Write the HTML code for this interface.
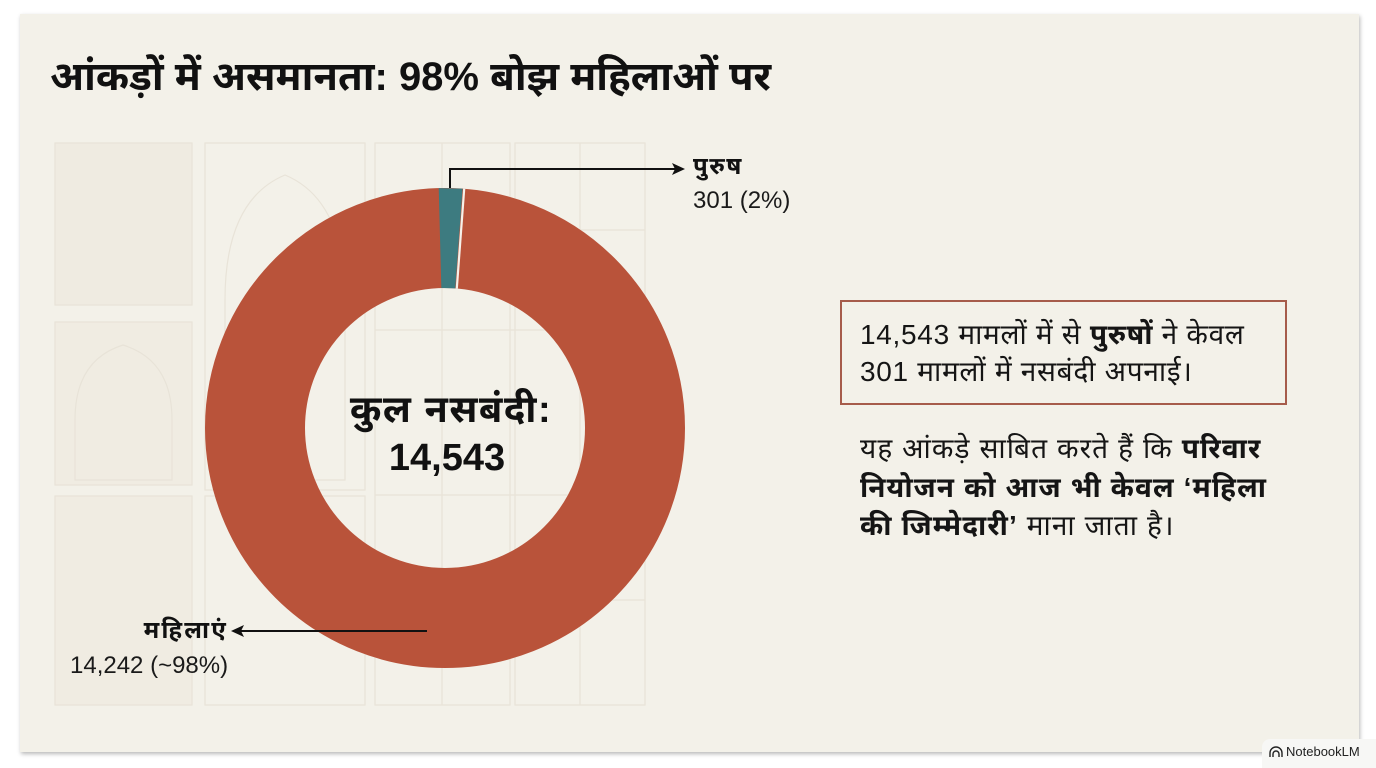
<!DOCTYPE html>
<html>
<head>
<meta charset="utf-8">
<style>
  html,body{margin:0;padding:0;}
  body{width:1376px;height:768px;background:#ffffff;position:relative;overflow:hidden;
       font-family:"Liberation Sans","Noto Sans Devanagari","Lohit Devanagari","Mukta","Noto Sans",sans-serif;color:#111;}
  .card{position:absolute;left:20px;top:14px;width:1339px;height:738px;background:#f3f1e9;
        box-shadow:1px 2px 4px rgba(0,0,0,0.28);}
  svg.bg{position:absolute;left:0;top:0;}
  .t{position:absolute;white-space:nowrap;}
  .title{left:50px;top:49px;font-size:40px;font-weight:bold;line-height:56px;letter-spacing:0px;}
  .lab-b{font-size:24px;font-weight:bold;line-height:30px;letter-spacing:1.5px;}
  .lab{font-size:24px;line-height:28px;color:#1a1a1a;}
  .center{font-size:38px;font-weight:bold;line-height:50px;text-align:center;width:300px;}
  .box{position:absolute;left:840px;top:300px;width:443px;height:101px;border:2px solid #a65c4b;}
  .txt{font-size:28px;line-height:37px;color:#151515;}
  .badge{position:absolute;left:1262px;top:739px;width:114px;height:29px;background:#f7f7f5;border-radius:8px 0 0 0;}
</style>
</head>
<body>
<div class="card"></div>

<svg class="bg" width="1376" height="768" viewBox="0 0 1376 768">
  <g fill="none" stroke="#e8e3d8" stroke-width="1.2">
    <rect x="55" y="143" width="137" height="162" fill="#efebe1"/>
    <rect x="55" y="322" width="137" height="163" fill="#f0ece2"/>
    <rect x="55" y="496" width="137" height="209" fill="#f0ece2"/>
    <rect x="205" y="143" width="160" height="347"/>
    <rect x="205" y="496" width="160" height="209"/>
    <rect x="375" y="143" width="135" height="562"/>
    <rect x="515" y="143" width="130" height="562"/>
    <line x1="442" y1="143" x2="442" y2="705"/>
    <line x1="580" y1="143" x2="580" y2="705"/>
    <line x1="375" y1="230" x2="645" y2="230"/>
    <line x1="375" y1="330" x2="645" y2="330"/>
    <line x1="375" y1="495" x2="645" y2="495"/>
    <line x1="375" y1="600" x2="645" y2="600"/>
    <path d="M225 300 Q225 200 285 175 Q345 200 345 300 L345 480 L225 480 Z"/>
    <path d="M75 420 Q75 360 123 345 Q172 360 172 420 L172 480 L75 480 Z"/>
  </g>

  <circle cx="445" cy="428" r="190" fill="none" stroke="#b9533a" stroke-width="100"/>
  <path d="M438.72 188.08 L462.58 188.65 L455.25 288.38 L441.33 288.05 Z" fill="#3d7b80"/>
  <line x1="464.2" y1="188.7" x2="456.8" y2="288.4" stroke="#f6f1ea" stroke-width="2.2"/>

  <g stroke="#111" stroke-width="2" fill="none">
    <polyline points="450,188 450,169 676,169"/>
    <line x1="427" y1="631" x2="240" y2="631"/>
  </g>
  <polygon points="685,169 672,163 675,169 672,175" fill="#111"/>
  <polygon points="231,631 244,625 241,631 244,637" fill="#111"/>
</svg>

<div class="t title">आंकड़ों में असमानता: 98% बोझ महिलाओं पर</div>

<div class="t lab-b" style="left:693px;top:152px;">पुरुष</div>
<div class="t lab" style="left:693px;top:187px;">301 (2%)</div>

<div class="t center" style="left:301px;top:385px;letter-spacing:1.5px;">कुल नसबंदी:</div>
<div class="t center" style="left:297px;top:433px;">14,543</div>

<div class="t lab-b" style="right:1148px;top:616px;letter-spacing:2.2px;">महिलाएं</div>
<div class="t lab" style="left:70px;top:652px;">14,242 (~98%)</div>

<div class="box"></div>
<div class="t txt" style="left:860px;top:316px;letter-spacing:0.7px;">14,543 मामलों में से <b>पुरुषों</b> ने केवल<br>301 मामलों में नसबंदी अपनाई।</div>

<div class="t txt" style="left:860px;top:430px;line-height:38.5px;letter-spacing:1.1px;">यह आंकड़े साबित करते हैं कि <b>परिवार</b><br><b>नियोजन को आज भी केवल ‘महिला</b><br><b>की जिम्मेदारी’</b> माना जाता है।</div>

<div class="badge"></div>
<svg style="position:absolute;left:1269px;top:746px;" width="14" height="12" viewBox="0 0 14 12">
  <g fill="none" stroke="#222" stroke-width="1.4">
    <path d="M1 11 V7 A6 6 0 0 1 13 7 V11"/>
    <path d="M4 11 V8 A3 3 0 0 1 10 8 V11"/>
  </g>
</svg>
<div class="t" style="left:1286px;top:744px;font-size:13px;line-height:16px;color:#222;">NotebookLM</div>
</body>
</html>
